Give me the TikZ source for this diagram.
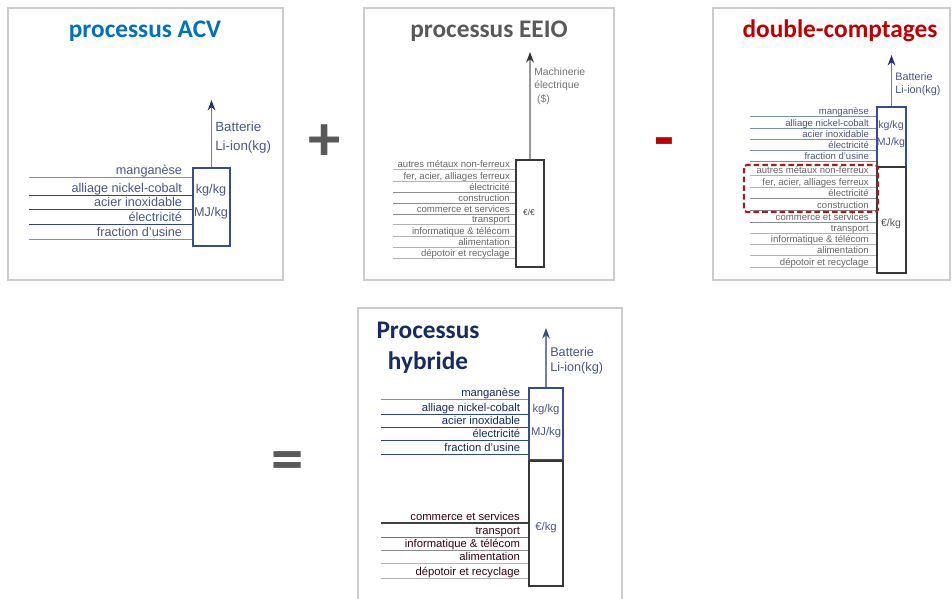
\documentclass[tikz,border=0pt]{standalone}
\usepackage{fontspec}
\setmainfont{Liberation Sans}
\newfontfamily\ttlfont{Carlito}
\usepackage{xcolor}
\usepackage{tikz}
\usetikzlibrary{arrows.meta,positioning,calc}

\definecolor{acvblue}{RGB}{0,112,192}
\definecolor{eeiogray}{RGB}{89,89,89}
\definecolor{dcred}{RGB}{192,0,0}
\definecolor{dashred}{RGB}{165,28,36}
\definecolor{hybnavy}{RGB}{22,42,100}
\definecolor{boxblue}{RGB}{55,75,145}
\definecolor{shaftblue}{RGB}{110,128,172}
\definecolor{headblue}{RGB}{30,50,110}
\definecolor{slate}{RGB}{75,85,135}
\definecolor{lnlight}{RGB}{125,142,182}
\definecolor{lndark}{RGB}{45,68,145}

\begin{document}
\begin{tikzpicture}[x=0.025cm,y=-0.025cm,
  fr/.style={draw=black!20,line width=0.8pt},
  ttl/.style={font=\ttlfont\bfseries\fontsize{18}{22}\selectfont,inner sep=0pt},
  op/.style={font=\ttlfont\bfseries\fontsize{46}{46}\selectfont,inner sep=0pt},
  bxA/.style={draw=boxblue,line width=1pt,inner sep=0pt},
  bxK/.style={draw=black!78,line width=1.2pt,inner sep=0pt},
  unit/.style={inner sep=0pt,text=slate},
  arr/.style={line width=0.9pt,-{Stealth[length=7.5pt,width=5.5pt,color=headblue]},draw=shaftblue},
  lnA/.style={line width=0.6pt,draw=lndark},
  lnB/.style={line width=0.6pt,draw=lnlight},
  lnG/.style={line width=0.6pt,draw=black!45},
  lnH/.style={line width=0.6pt,draw=black!30},
  lb/.style={anchor=base east,inner sep=0pt},
  lbA/.style={lb,xshift=-7pt,yshift=1.5pt,text=slate,font=\fontsize{9}{10}\selectfont},
  lbE/.style={lb,xshift=-3.5pt,yshift=1.2pt,text=black!60,font=\fontsize{6.8}{8}\selectfont},
  lbD/.style={lb,xshift=-5pt,yshift=1.2pt,font=\fontsize{6.8}{8}\selectfont},
  lbH/.style={lb,xshift=-5.5pt,yshift=1.5pt,font=\fontsize{8}{9}\selectfont}
]
\useasboundingbox (0,0) rectangle (952,598);
%--- frames ---
\draw[fr] (8,8) rectangle (283,280);
\draw[fr] (364,8) rectangle (614,280);
\draw[fr] (713,8) rectangle (950,280);
\draw[fr] (358,600) -- (358,308) -- (622,308) -- (622,600);

%--- processus ACV ---
\node[ttl,text=acvblue] (tacv) at (145,31) {processus ACV};
\node[bxA,minimum width=0.925cm,minimum height=1.95cm] (acv) at (211.5,207) {};
\node[unit,font=\fontsize{9}{10}\selectfont] (acvk) at (211,190) {kg/kg};
\node[unit,font=\fontsize{9}{10}\selectfont] (acvm) at (211,213) {MJ/kg};
\coordinate (acvtop) at (211.5,100);
\draw[arr] (acv.north) -- (acvtop);
\node[anchor=west,align=left,inner sep=0pt,text=slate,font=\fontsize{9.5}{13.5}\selectfont] (acvout) at (215,138) {Batterie\\Li-ion(kg)};
\coordinate (a1) at (29,177); \draw[lnB] (a1) -- (a1 -| acv.west) node[lbA] (ta1) {manganèse};
\coordinate (a2) at (29,195); \draw[lnA] (a2) -- (a2 -| acv.west) node[lbA] (ta2) {alliage nickel-cobalt};
\coordinate (a3) at (29,209); \draw[lnA] (a3) -- (a3 -| acv.west) node[lbA] (ta3) {acier inoxidable};
\coordinate (a4) at (29,224); \draw[lnA] (a4) -- (a4 -| acv.west) node[lbA] (ta4) {électricité};
\coordinate (a5) at (29,239); \draw[lnB] (a5) -- (a5 -| acv.west) node[lbA] (ta5) {fraction d'usine};

\node[op,text=eeiogray] (plus) at (325,143) {+};

%--- processus EEIO ---
\node[ttl,text=eeiogray] (teeio) at (489,31) {processus EEIO};
\node[bxK,minimum width=0.7cm,minimum height=2.675cm] (eeio) at (530,213.5) {};
\node[inner sep=0pt,text=black!70,font=\fontsize{6}{7}\selectfont] (eeiou) at (529,212) {€/€};
\coordinate (eeiotop) at (530,52);
\draw[arr,draw=black!40,-{Stealth[length=7.5pt,width=5.5pt,color=black!80]}] (eeio.north) -- (eeiotop);
\node[anchor=west,align=left,inner sep=0pt,text=black!55,font=\fontsize{7.4}{9.6}\selectfont] (eeioout) at (534,86) {Machinerie\\électrique\\\hspace*{2pt}(\$)};
\coordinate (e1) at (393,169); \draw[lnH] (e1) -- (e1 -| eeio.west) node[lbE] (te1) {autres métaux non-ferreux};
\coordinate (e2) at (393,181); \draw[lnH] (e2) -- (e2 -| eeio.west) node[lbE] (te2) {fer, acier, alliages ferreux};
\coordinate (e3) at (393,192); \draw[lnG] (e3) -- (e3 -| eeio.west) node[lbE] (te3) {électricité};
\coordinate (e4) at (393,203); \draw[lnG] (e4) -- (e4 -| eeio.west) node[lbE] (te4) {construction};
\coordinate (e5) at (393,214); \draw[lnG] (e5) -- (e5 -| eeio.west) node[lbE] (te5) {commerce et services};
\coordinate (e6) at (393,224); \draw[lnH] (e6) -- (e6 -| eeio.west) node[lbE] (te6) {transport};
\coordinate (e7) at (393,236); \draw[lnH] (e7) -- (e7 -| eeio.west) node[lbE] (te7) {informatique \& télécom};
\coordinate (e8) at (393,247); \draw[lnH] (e8) -- (e8 -| eeio.west) node[lbE] (te8) {alimentation};
\coordinate (e9) at (393,258); \draw[lnH] (e9) -- (e9 -| eeio.west) node[lbE] (te9) {dépotoir et recyclage};

\node[op,text=dcred] (minus) at (664,149) {-};

%--- double-comptages ---
\node[ttl,text=dcred] (tdc) at (840,31) {double-comptages};
\node[bxA,minimum width=0.725cm,minimum height=1.5cm] (dcA) at (891.5,137) {};
\node[bxK,minimum width=0.725cm,minimum height=2.65cm] (dcB) at (891.5,220) {};
\node[unit,font=\fontsize{7.5}{8}\selectfont] (dck) at (891,126) {kg/kg};
\node[unit,font=\fontsize{7.5}{8}\selectfont] (dcm) at (891,143) {MJ/kg};
\node[unit,text=black!65,font=\fontsize{7.5}{8}\selectfont] (dce) at (891,224) {€/kg};
\coordinate (dctop) at (891.5,55);
\draw[arr] (dcA.north) -- (dctop);
\node[anchor=west,align=left,inner sep=0pt,text=slate,font=\fontsize{7.7}{9.3}\selectfont] (dcout) at (895,84) {Batterie\\Li-ion(kg)};
\coordinate (d1) at (750,116); \draw[lnB] (d1) -- (d1 -| dcA.west) node[lbD,text=slate] (td1) {manganèse};
\coordinate (d2) at (750,128); \draw[lnB] (d2) -- (d2 -| dcA.west) node[lbD,text=slate] (td2) {alliage nickel-cobalt};
\coordinate (d3) at (750,139); \draw[lnB] (d3) -- (d3 -| dcA.west) node[lbD,text=slate] (td3) {acier inoxidable};
\coordinate (d4) at (750,150); \draw[lnB] (d4) -- (d4 -| dcA.west) node[lbD,text=slate] (td4) {électricité};
\coordinate (d5) at (750,161); \draw[lnB] (d5) -- (d5 -| dcA.west) node[lbD,text=slate] (td5) {fraction d'usine};
\coordinate (d6) at (750,175); \draw[lnH] (d6) -- (d6 -| dcB.west) node[lbD,text=black!60] (td6) {autres métaux non-ferreux};
\coordinate (d7) at (750,187); \draw[lnH] (d7) -- (d7 -| dcB.west) node[lbD,text=black!60] (td7) {fer, acier, alliages ferreux};
\coordinate (d8) at (750,198); \draw[lnG] (d8) -- (d8 -| dcB.west) node[lbD,text=black!60] (td8) {électricité};
\coordinate (d9) at (750,210); \draw[lnG] (d9) -- (d9 -| dcB.west) node[lbD,text=black!60] (td9) {construction};
\coordinate (d10) at (750,222); \draw[lnG] (d10) -- (d10 -| dcB.west) node[lbD,text=black!60] (td10) {commerce et services};
\coordinate (d11) at (750,233); \draw[lnH] (d11) -- (d11 -| dcB.west) node[lbD,text=black!60] (td11) {transport};
\coordinate (d12) at (750,244); \draw[lnH] (d12) -- (d12 -| dcB.west) node[lbD,text=black!60] (td12) {informatique \& télécom};
\coordinate (d13) at (750,255); \draw[lnH] (d13) -- (d13 -| dcB.west) node[lbD,text=black!60] (td13) {alimentation};
\coordinate (d14) at (750,267); \draw[lnH] (d14) -- (d14 -| dcB.west) node[lbD,text=black!60] (td14) {dépotoir et recyclage};
% the inputs counted twice
\draw[dashred,line width=1.5pt,dash pattern=on 4pt off 2.2pt,rounded corners=2pt] (744,165) rectangle (878,212);

\node[op,text=eeiogray] (eq) at (288,466) {=};

%--- processus hybride ---
\node[ttl,text=hybnavy,align=center,font=\ttlfont\bfseries\fontsize{18}{22}\selectfont] (thyb) at (428,348) {Processus\\hybride};
\node[bxA,minimum width=0.85cm,minimum height=1.8cm] (hyA) at (546,424) {};
\node[bxK,minimum width=0.85cm,minimum height=3.125cm] (hyB) at (546,523.5) {};
\node[unit,font=\fontsize{8}{9}\selectfont] (hyk) at (546,410) {kg/kg};
\node[unit,font=\fontsize{8}{9}\selectfont] (hym) at (546,433) {MJ/kg};
\node[unit,font=\fontsize{8}{9}\selectfont] (hye) at (546,528) {€/kg};
\coordinate (hytop) at (546,328);
\draw[arr,-{Stealth[length=7.5pt,width=5.5pt,color=boxblue]}] (hyA.north) -- (hytop);
\node[anchor=west,align=left,inner sep=0pt,text=slate,font=\fontsize{9}{10.6}\selectfont] (hyout) at (550,361) {Batterie\\Li-ion(kg)};
\coordinate (h1) at (381,399); \draw[lnB] (h1) -- (h1 -| hyA.west) node[lbH,text=hybnavy] (th1) {manganèse};
\coordinate (h2) at (381,414); \draw[lnA] (h2) -- (h2 -| hyA.west) node[lbH,text=hybnavy] (th2) {alliage nickel-cobalt};
\coordinate (h3) at (381,427); \draw[lnA] (h3) -- (h3 -| hyA.west) node[lbH,text=hybnavy] (th3) {acier inoxidable};
\coordinate (h4) at (381,440); \draw[lnA] (h4) -- (h4 -| hyA.west) node[lbH,text=hybnavy] (th4) {électricité};
\coordinate (h5) at (381,454); \draw[lnA] (h5) -- (h5 -| hyA.west) node[lbH,text=hybnavy] (th5) {fraction d'usine};
\coordinate (h6) at (381,523); \draw[line width=0.8pt,draw=black!75] (h6) -- (h6 -| hyB.west) node[lbH,text=black!70!purple] (th6) {commerce et services};
\coordinate (h7) at (381,537); \draw[line width=0.7pt,draw=black!55] (h7) -- (h7 -| hyB.west) node[lbH,text=black!70!purple] (th7) {transport};
\coordinate (h8) at (381,550); \draw[lnG] (h8) -- (h8 -| hyB.west) node[lbH,text=black!70!purple] (th8) {informatique \& télécom};
\coordinate (h9) at (381,563); \draw[lnH] (h9) -- (h9 -| hyB.west) node[lbH,text=black!70!purple] (th9) {alimentation};
\coordinate (h10) at (381,578); \draw[lnH] (h10) -- (h10 -| hyB.west) node[lbH,text=black!70!purple] (th10) {dépotoir et recyclage};
\end{tikzpicture}
\end{document}
